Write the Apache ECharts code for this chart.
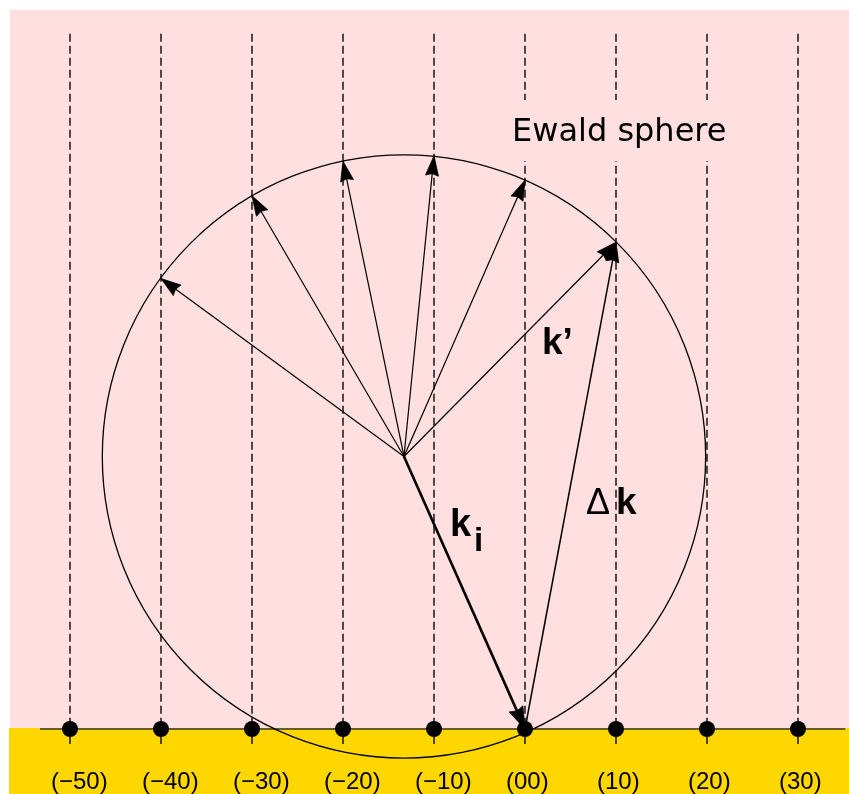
<!DOCTYPE html>
<html><head><meta charset="utf-8">
<script src="https://cdn.jsdelivr.net/npm/echarts@6/dist/echarts.min.js"></script>
<style>html,body{margin:0;padding:0;background:#fff}#c{width:849px;height:794px}</style>
</head><body><div id="c"></div>
<script>
// Reciprocal-lattice rods (h index along the surface, l along the normal)
const rodH = [-50, -40, -30, -20, -10, 0, 10, 20, 30];
const rodLabels = ['(\u221250)', '(\u221240)', '(\u221230)', '(\u221220)', '(\u221210)', '(00)', '(10)', '(20)', '(30)'];
const rodTop = 76.4;
const rodStub = -1.65;
// Ewald sphere
const sphereCenter = [-13.3, 29.95];
const sphereRadius = 33.15;
// scattered wave vectors k' : end points on the sphere
const kPrimeH = [-40, -30, -20, -10, 0, 10];
const kPrimeL = [49.5, 58.6, 62.4, 63.0, 60.3, 53.5];
// incident wave vector ends at origin; delta k from origin to (10) intersection
const origin = [0, 0];
const deltaKEnd = [10, 53.5];
const baselineExtent = [-53.3, 35.2];

const chart = echarts.init(document.getElementById('c'), null, {renderer: 'canvas'});

function arrowItem(p0, p1, lw, L, W) {
  const dx = p1[0] - p0[0], dy = p1[1] - p0[1];
  const len = Math.hypot(dx, dy);
  const ux = dx / len, uy = dy / len;
  const bx = p1[0] - ux * L, by = p1[1] - uy * L;
  const nx = -uy, ny = ux;
  return {
    type: 'group',
    children: [
      {type: 'line', shape: {x1: p0[0], y1: p0[1], x2: bx + ux * 3, y2: by + uy * 3},
       style: {stroke: '#000', lineWidth: lw}},
      {type: 'polygon', shape: {points: [
        [p1[0], p1[1]], [bx + nx * W, by + ny * W],
        [bx + ux * L * 0.1, by + uy * L * 0.1], [bx - nx * W, by - ny * W]]},
       style: {fill: '#000', stroke: '#000', lineWidth: 0.8}}
    ]
  };
}

const option = {
  animation: false,
  grid: {left: 0, right: 0, top: 0, bottom: 0},
  xAxis: {type: 'value', min: -57.692, max: 35.604, show: false},
  yAxis: {type: 'value', min: -7.143, max: 80.110, show: false},
  graphic: [
    {type: 'rect', z: -10, shape: {x: 10, y: 10, width: 839, height: 718}, style: {fill: '#FFDFDF'}},
    {type: 'rect', z: -10, shape: {x: 9, y: 728, width: 840, height: 66}, style: {fill: '#FFD700'}},
    {type: 'rect', z: 50, shape: {x: 505, y: 100, width: 235, height: 61}, style: {fill: '#FFDFDF'}},
    {type: 'text', z: 51, x: 512, y: 133, style: {text: 'Ewald sphere', font: '32px "DejaVu Sans", sans-serif', fill: '#000', verticalAlign: 'middle', align: 'left'}},
    {type: 'text', z: 51, x: 542, y: 344, style: {text: 'k\u2019', font: 'bold 37px "Liberation Sans", Arial, sans-serif', fill: '#000', verticalAlign: 'middle'}},
    {type: 'text', z: 51, x: 450, y: 526, style: {text: 'k', font: 'bold 38px "Liberation Sans", Arial, sans-serif', fill: '#000', verticalAlign: 'middle'}},
    {type: 'text', z: 51, x: 474, y: 542, style: {text: 'i', font: 'bold 33px "Liberation Sans", Arial, sans-serif', fill: '#000', verticalAlign: 'middle'}},
    {type: 'text', z: 51, x: 586, y: 504, style: {text: '\u0394', font: '36px "Liberation Sans", Arial, sans-serif', fill: '#000', verticalAlign: 'middle'}},
    {type: 'text', z: 51, x: 616, y: 504, style: {text: 'k', font: 'bold 37px "Liberation Sans", Arial, sans-serif', fill: '#000', verticalAlign: 'middle'}}
  ],
  series: [
    {
      type: 'line', z: 3, data: [[baselineExtent[0], 0], [baselineExtent[1], 0]],
      symbol: 'none', lineStyle: {color: '#333', width: 1.5}, silent: true
    },
    {
      type: 'custom', z: 2, silent: true,
      data: rodH.map(h => [h]),
      renderItem: function (params, api) {
        const h = api.value(0);
        const top = api.coord([h, rodTop]);
        const bot = api.coord([h, 0]);
        const stub = api.coord([h, rodStub]);
        return {type: 'group', children: [
          {type: 'line', shape: {x1: top[0], y1: top[1], x2: bot[0], y2: bot[1]},
           style: {stroke: '#222', lineWidth: 1.6, lineDash: [8, 4]}},
          {type: 'line', shape: {x1: bot[0], y1: bot[1], x2: stub[0], y2: stub[1]},
           style: {stroke: '#222', lineWidth: 1.6}}
        ]};
      }
    },
    {
      type: 'custom', z: 4, silent: true,
      data: [[sphereCenter[0], sphereCenter[1], sphereRadius]],
      renderItem: function (params, api) {
        const c = api.coord([api.value(0), api.value(1)]);
        const r = api.size([api.value(2), 0])[0];
        return {type: 'circle', shape: {cx: c[0], cy: c[1], r: r},
                style: {fill: 'none', stroke: '#000', lineWidth: 1.3}};
      }
    },
    {
      type: 'custom', z: 5, silent: true,
      data: kPrimeH.map((h, i) => [h, kPrimeL[i]]),
      renderItem: function (params, api) {
        const p0 = api.coord(sphereCenter);
        const p1 = api.coord([api.value(0), api.value(1)]);
        return arrowItem(p0, p1, 1.2, 20, 6.5);
      }
    },
    {
      type: 'custom', z: 5, silent: true,
      data: [[origin[0], origin[1]]],
      renderItem: function (params, api) {
        const p0 = api.coord(sphereCenter);
        const p1 = api.coord([api.value(0), api.value(1)]);
        return arrowItem(p0, p1, 2.6, 22, 7.5);
      }
    },
    {
      type: 'custom', z: 5, silent: true,
      data: [[origin[0], origin[1], deltaKEnd[0], deltaKEnd[1]]],
      renderItem: function (params, api) {
        const p0 = api.coord([api.value(0), api.value(1)]);
        const p1 = api.coord([api.value(2), api.value(3)]);
        return arrowItem(p0, p1, 1.5, 20, 6.5);
      }
    },
    {
      type: 'scatter', z: 6, silent: true,
      data: rodH.map(h => [h, 0]),
      symbol: 'circle', symbolSize: 16,
      itemStyle: {color: '#000', opacity: 1},
      label: {
        show: true, position: 'bottom', distance: 33, align: 'left', offset: [-19, 0],
        formatter: p => rodLabels[p.dataIndex],
        fontFamily: '"Liberation Sans", Arial, sans-serif', fontSize: 24, color: '#000'
      }
    }
  ]
};
chart.setOption(option);
</script>
</body></html>
